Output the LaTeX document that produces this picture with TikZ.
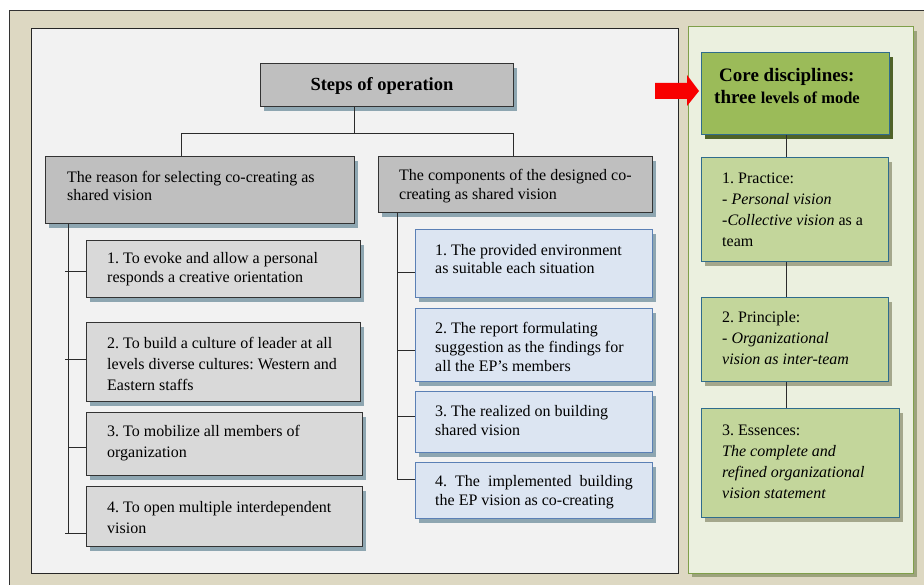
\documentclass[tikz,border=0pt]{standalone}
\usepackage{fontspec}
\setmainfont{Liberation Serif}
\frenchspacing
\usetikzlibrary{shadows}

\definecolor{pagebeige}{HTML}{DDD8C2}
\definecolor{panelgray}{HTML}{F2F2F2}
\definecolor{panelgreen}{HTML}{EBF0DF}
\definecolor{panelgreenline}{HTML}{7F9F4A}
\definecolor{panelgreenshadow}{HTML}{9CA37C}
\definecolor{headgray}{HTML}{BFBFBF}
\definecolor{itemgray}{HTML}{D9D9D9}
\definecolor{itemblue}{HTML}{DCE5F2}
\definecolor{itemblueline}{HTML}{5B80B5}
\definecolor{slateshadow}{HTML}{8EA6B1}
\definecolor{coregreen}{HTML}{9BBB59}
\definecolor{coreshadow}{HTML}{4F6228}
\definecolor{lightgreen}{HTML}{C3D69B}
\definecolor{tealline}{HTML}{2F6C8C}
\definecolor{greenshadow}{HTML}{A4A78C}
\definecolor{linkgray}{HTML}{2B2B2B}
\definecolor{arrowred}{HTML}{F80000}

\newcommand{\tightfont}{\fontsize{16}{18.7}\selectfont}
\newcommand{\loosefont}{\fontsize{16}{21}\selectfont}

\tikzset{
  boxbase/.style={anchor=north west, inner sep=0pt, line width=0.9pt},
  headbox/.style={boxbase, fill=headgray, draw=black!80,
    general shadow={fill=slateshadow, shadow xshift=4pt, shadow yshift=-5pt}},
  graybox/.style={boxbase, fill=itemgray, draw=black!80,
    general shadow={fill=slateshadow, shadow xshift=4pt, shadow yshift=-5pt}},
  bluebox/.style={boxbase, fill=itemblue, draw=itemblueline,
    general shadow={fill=slateshadow, shadow xshift=4pt, shadow yshift=-5pt}},
  corebox/.style={boxbase, fill=coregreen, draw=tealline,
    general shadow={fill=coreshadow, shadow xshift=4pt, shadow yshift=-5pt}},
  greenbox/.style={boxbase, fill=lightgreen, draw=tealline,
    general shadow={fill=greenshadow, shadow xshift=4pt, shadow yshift=-5pt}},
  sz/.style 2 args={minimum width=#1pt, minimum height=#2pt},
  txt/.style={anchor=west, align=left, inner sep=0pt},
  link/.style={draw=linkgray, line width=1pt}
}

\begin{document}
\begin{tikzpicture}[x=1pt, y=-1pt]
\useasboundingbox (0,0) rectangle (924,585);
\fill[white] (0,0) rectangle (924,585);

% page frame
\fill[pagebeige] (9,10) rectangle (924,585);
\draw[black!80, line width=0.8pt] (9,585) -- (9,10) -- (924,10);

% left panel
\draw[fill=panelgray, draw=black!85, line width=1pt] (31,29) rectangle (678,573);

% right panel with its shadow
\fill[panelgreenshadow] (692,31) rectangle (917,577);
\draw[fill=panelgreen, draw=panelgreenline, line width=1pt] (688,27) rectangle (913,573);

% ---------------- left panel: boxes ----------------
\node[headbox, sz={253}{43}] (steps) at (260,63) {};
\node[headbox, sz={309}{67}] (reason) at (45,156) {};
\node[headbox, sz={274}{56}] (comp) at (378,156) {};

\node[graybox, sz={274}{57}] (L1) at (86,240) {};
\node[graybox, sz={274}{79}] (L2) at (86,322) {};
\node[graybox, sz={276}{63}] (L3) at (86,412) {};
\node[graybox, sz={276}{60}] (L4) at (86,486) {};

\node[bluebox, sz={237}{68}] (R1) at (415,229) {};
\node[bluebox, sz={237}{73}] (R2) at (415,308) {};
\node[bluebox, sz={237}{61}] (R3) at (415,391) {};
\node[bluebox, sz={237}{56}] (R4) at (415,462) {};

% ---------------- left panel: texts ----------------
\node[inner sep=0pt, font=\fontsize{18.5}{22}\selectfont\bfseries]
  (steps-t) at ([xshift=-5pt,yshift=-1pt]steps.center) {Steps of operation};

\node[txt, font=\tightfont] (reason-t) at ([xshift=22pt,yshift=4pt]reason.west)
  {The reason for selecting co-creating as\\ shared vision};
\node[txt, font=\tightfont] (comp-t) at ([xshift=21pt,yshift=-1.5pt]comp.west)
  {The components of the designed co-\\ creating as shared vision};

\node[txt, font=\tightfont] (L1-t) at ([xshift=21pt]L1.west)
  {1. To evoke and allow a personal\\ responds a creative orientation};
\node[txt, font=\loosefont] (L2-t) at ([xshift=21pt,yshift=-1.5pt]L2.west)
  {2. To build a culture of leader at all\\ levels diverse cultures: Western and\\ Eastern staffs};
\node[txt, font=\loosefont] (L3-t) at ([xshift=21pt,yshift=1pt]L3.west)
  {3. To mobilize all members of\\ organization};
\node[txt, font=\loosefont] (L4-t) at ([xshift=21pt,yshift=-1.5pt]L4.west)
  {4. To open multiple interdependent\\ vision};

\node[txt, font=\tightfont] (R1-t) at ([xshift=20pt,yshift=4.5pt]R1.west)
  {1. The provided environment\\ as suitable each situation};
\node[txt, font=\tightfont] (R2-t) at ([xshift=20pt,yshift=-2pt]R2.west)
  {2. The report formulating\\ suggestion as the findings for\\ all the EP’s members};
\node[txt, font=\tightfont] (R3-t) at ([xshift=20pt,yshift=1.5pt]R3.west)
  {3. The realized on building\\ shared vision};
\node[txt, font=\tightfont] (R4-t) at ([xshift=20pt,yshift=-1.7pt]R4.west)
  {4.\ \ The\ \ implemented\ \ building\\ the EP vision as co-creating};

% ---------------- left panel: tree connectors ----------------
\coordinate (mid) at (354,134);
\coordinate (brL) at (181,134);
\coordinate (brR) at (513,134);
\coordinate (spL) at (68,533);
\coordinate (spR) at (397,479);

\draw[link] (mid |- steps.south) -- (mid);
\draw[link] (brL |- reason.north) -- (brL) -- (brR) -- (brR |- comp.north);

\draw[link] (spL |- reason.south) -- (spL);
\coordinate (tL1) at (65,272);
\coordinate (tL2) at (65,360);
\coordinate (tL3) at (68,447);
\coordinate (tL4) at (65,533);
\draw[link] (tL1) -- (tL1 -| L1.west);
\draw[link] (tL2) -- (tL2 -| L2.west);
\draw[link] (tL3) -- (tL3 -| L3.west);
\draw[link] (tL4) -- (tL4 -| L4.west);

\draw[link] (spR |- comp.south) -- (spR);
\coordinate (tR1) at (397,273);
\coordinate (tR2) at (397,351);
\coordinate (tR3) at (397,416);
\coordinate (tR4) at (397,479);
\draw[link] (tR1) -- (tR1 -| R1.west);
\draw[link] (tR2) -- (tR2 -| R2.west);
\draw[link] (tR3) -- (tR3 -| R3.west);
\draw[link] (tR4) -- (tR4 -| R4.west);

% ---------------- right panel: core disciplines ----------------
\node[corebox, sz={188}{82}] (core) at (701,52) {};
\node[greenbox, sz={187}{104}] (P1) at (701,157) {};
\node[greenbox, sz={187}{84}] (P2) at (701,297) {};
\node[greenbox, sz={198}{109}] (P3) at (701,408) {};

\node[txt, font=\fontsize{19}{22}\selectfont\bfseries] (core-t)
  at ([xshift=13pt,yshift=7pt]core.west)
  {\hspace*{5pt}Core disciplines:\\
   three {\fontsize{16.5}{22}\selectfont levels of mode}};

\node[txt, font=\loosefont] (P1-t) at ([xshift=21pt]P1.west)
  {1. Practice:\\ - \textit{Personal vision}\\ -\textit{Collective vision} as a\\ team};
\node[txt, font=\loosefont] (P2-t) at ([xshift=21pt,yshift=1pt]P2.west)
  {2. Principle:\\ - \textit{Organizational}\\ \textit{vision as inter-team}};
\node[txt, font=\loosefont] (P3-t) at ([xshift=21pt,yshift=1.5pt]P3.west)
  {3. Essences:\\ \textit{The complete and}\\ \textit{refined organizational}\\ \textit{vision statement}};

\coordinate (axis) at (786,0);
\draw[link] (axis |- core.south) -- (axis |- P1.north);
\draw[link] (axis |- P1.south) -- (axis |- P2.north);
\draw[link] (axis |- P2.south) -- (axis |- P3.north);

% red block arrow pointing at the core box
\coordinate (tip) at (699,91);
\fill[arrowred] (655,83) -- (687,83) -- (687,75) -- (tip) -- (687,106)
  -- (687,99) -- (655,99) -- cycle;
\end{tikzpicture}
\end{document}
